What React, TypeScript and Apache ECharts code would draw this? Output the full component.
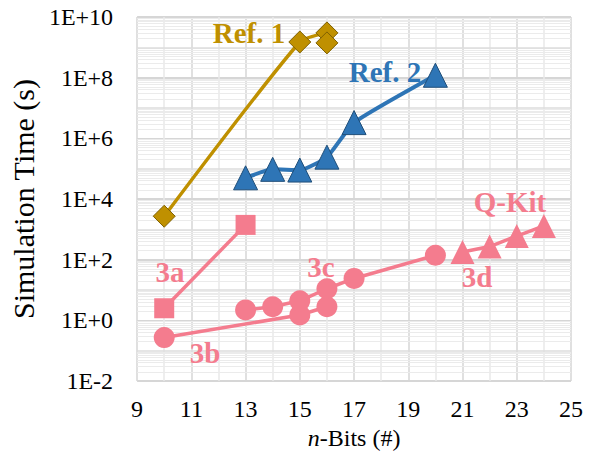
import React, { useEffect, useRef } from "react";
import * as echarts from "echarts";

const ref1X = [10, 15, 16, 16];
const ref1Y = [2700, 1.5e9, 3e9, 1.4e9];
const ref2X = [13, 14, 15, 16, 17, 20];
const ref2Y = [5e4, 9.5e4, 9e4, 2.4e5, 3.3e6, 1.2e8];
const s3aX = [10, 13];
const s3aY = [2.5, 1400];
const s3bX = [10, 15, 16];
const s3bY = [0.27, 1.5, 2.8];
const s3cX = [13, 14, 15, 16, 17, 20];
const s3cY = [2.2, 2.8, 4.4, 11, 24, 140];
const s3dX = [21, 22, 23, 24];
const s3dY = [180, 270, 600, 1300];

const GOLD = "#BF9000";
const BLUE = "#2E75B6";
const PINK = "#F47C8E";
const SERIF = "'Liberation Serif', 'Times New Roman', serif";

const zip = (xs: number[], ys: number[]) => xs.map((x, i) => [x, ys[i]]);

export default function App() {
  const ref = useRef<HTMLDivElement>(null);
  useEffect(() => {
    document.body.style.margin = "0";
    const chart = echarts.init(ref.current!, undefined, { renderer: "svg" });
    const minorVals: number[] = [];
    const midVals: number[] = [];
    for (let k = -2; k < 10; k++) {
      for (let m = 2; m <= 9; m++) minorVals.push(m * Math.pow(10, k));
      if (k % 2 !== 0) midVals.push(Math.pow(10, k));
    }
    const lbl = (text: string, x: number, y: number, color: string) => ({
      type: "text",
      x,
      y,
      z: 100,
      style: {
        text,
        fill: color,
        font: `bold 29px ${SERIF}`,
        textAlign: "center",
        textVerticalAlign: "middle",
      },
    });
    chart.setOption({
      animation: false,
      grid: { left: 137, right: 21, top: 17, bottom: 89 },
      xAxis: {
        type: "value",
        min: 9,
        max: 25,
        interval: 2,
        axisLine: { show: false },
        axisTick: { show: false },
        axisLabel: { fontFamily: SERIF, fontSize: 24, color: "#000", margin: 16 },
        splitLine: { show: true, lineStyle: { color: "#d6d6d6", width: 1.5 } },
        minorTick: { show: false, splitNumber: 2 },
        minorSplitLine: { show: true, lineStyle: { color: "#e8e8e8", width: 1.5 } },
        name: "{i|n}-Bits (#)",
        nameLocation: "middle",
        nameGap: 45,
        nameTextStyle: {
          fontFamily: SERIF,
          fontSize: 24,
          color: "#000",
          rich: { i: { fontFamily: SERIF, fontSize: 24, fontStyle: "italic", color: "#000" } },
        },
      },
      yAxis: {
        type: "log",
        logBase: 10,
        min: 0.01,
        max: 1e10,
        interval: 2,
        axisLine: { show: false },
        axisTick: { show: false },
        axisLabel: {
          fontFamily: SERIF,
          fontSize: 24,
          color: "#000",
          margin: 24,
          formatter: (v: number) => {
            const e = Math.round(Math.log10(v));
            return "1E" + (e >= 0 ? "+" : "") + e;
          },
        },
        splitLine: { show: true, lineStyle: { color: "#d6d6d6", width: 2 } },
        name: "Simulation Time (s)",
        nameLocation: "middle",
        nameRotate: 90,
        nameGap: 95,
        nameTextStyle: { fontFamily: SERIF, fontSize: 30, color: "#000" },
      },
      series: [
        {
          type: "line",
          data: [],
          silent: true,
          z: 1,
          markLine: {
            silent: true,
            z: 1,
            symbol: "none",
            label: { show: false },
            lineStyle: { color: "#ebebeb", width: 1, type: "solid" },
            data: minorVals.map((v) => ({ yAxis: v })),
          },
        },
        {
          type: "line",
          data: [],
          silent: true,
          z: 1,
          markLine: {
            silent: true,
            z: 1,
            symbol: "none",
            label: { show: false },
            lineStyle: { color: "#dcdcdc", width: 1.5, type: "solid" },
            data: midVals.map((v) => ({ yAxis: v })),
          },
        },
        {
          type: "line",
          z: 5,
          data: zip(ref1X, ref1Y),
          symbol: "diamond",
          symbolSize: 22,
          lineStyle: { color: GOLD, width: 3.5 },
          itemStyle: { color: GOLD, borderColor: "#7F6000", borderWidth: 1 },
          smooth: 0.2,
        },
        {
          type: "line",
          z: 5,
          data: zip(ref2X, ref2Y),
          symbol: "triangle",
          symbolSize: 24,
          lineStyle: { color: BLUE, width: 4 },
          itemStyle: { color: BLUE, borderColor: "#1F4E79", borderWidth: 1 },
          smooth: 0.15,
        },
        {
          type: "line",
          z: 5,
          data: zip(s3aX, s3aY),
          symbol: "rect",
          symbolSize: 20,
          lineStyle: { color: PINK, width: 3.5 },
          itemStyle: { color: PINK },
        },
        {
          type: "line",
          z: 5,
          data: zip(s3bX, s3bY),
          symbol: "circle",
          symbolSize: 21,
          lineStyle: { color: PINK, width: 3.5 },
          itemStyle: { color: PINK },
        },
        {
          type: "line",
          z: 5,
          data: zip(s3cX, s3cY),
          symbol: "circle",
          symbolSize: 21,
          lineStyle: { color: PINK, width: 3.5 },
          itemStyle: { color: PINK },
        },
        {
          type: "line",
          z: 5,
          data: zip(s3dX, s3dY),
          symbol: "triangle",
          symbolSize: 24,
          lineStyle: { color: PINK, width: 3.5 },
          itemStyle: { color: PINK },
        },
      ],
      graphic: [
        lbl("Ref. 1", 249, 33, GOLD),
        lbl("Ref. 2", 385, 72, BLUE),
        lbl("3a", 170, 272, PINK),
        lbl("3b", 205, 353, PINK),
        lbl("3c", 321, 267, PINK),
        lbl("3d", 477, 277, PINK),
        lbl("Q-Kit", 510, 202, PINK),
      ],
    });
    return () => chart.dispose();
  }, []);
  return <div ref={ref} style={{ width: 592, height: 470 }} />;
}
